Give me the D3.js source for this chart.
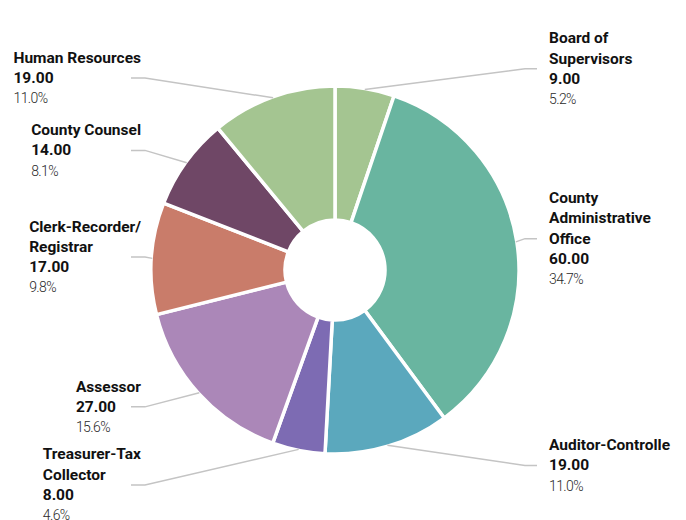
<!DOCTYPE html>
<html>
<head>
<meta charset="utf-8">
<script src="https://cdn.jsdelivr.net/npm/d3@7/dist/d3.min.js"></script>
<style>
  html, body { margin: 0; padding: 0; background: #fff; }
  svg { display: block; }
  .name, .value { font-family: Roboto, "Noto Sans", sans-serif; font-weight: 700; font-size: 15.5px; fill: #111; }
  .pct { font-family: Roboto, "Noto Sans", sans-serif; font-weight: 300; font-size: 14px; letter-spacing: -0.6px; fill: #2a2a2a; }
</style>
</head>
<body>
<svg id="chart" width="686" height="520"></svg>
<script>
// Department staffing (FTE), clockwise from 12 o'clock
const categories = [
  "Board of Supervisors",
  "County Administrative Office",
  "Auditor-Controlle",
  "Treasurer-Tax Collector",
  "Assessor",
  "Clerk-Recorder/Registrar",
  "County Counsel",
  "Human Resources"
];
// Label text as it wraps beside the ring
const labelLines = [
  ["Board of", "Supervisors"],
  ["County", "Administrative", "Office"],
  ["Auditor-Controlle"],
  ["Treasurer-Tax", "Collector"],
  ["Assessor"],
  ["Clerk-Recorder/", "Registrar"],
  ["County Counsel"],
  ["Human Resources"]
];
const values = [9, 60, 19, 8, 27, 17, 14, 19];
const colors = ["#a4c591", "#69b5a0", "#5ba8bd", "#7d6bb3", "#ab87b8", "#c97c6a", "#6f4766", "#a4c591"];

const W = 686, H = 520;
const cx = 335, cy = 270;
const outerR = 184, innerR = 50;
const labelR = 204;
const lineH = 20.3;

const svg = d3.select("#chart");
const total = d3.sum(values);
const data = categories.map((c, i) => ({ name: c, lines: labelLines[i], value: values[i], color: colors[i] }));

const pie = d3.pie().value(d => d.value).sort(null);
const arcs = pie(data);
const arc = d3.arc().innerRadius(innerR).outerRadius(outerR);

const g = svg.append("g").attr("transform", `translate(${cx},${cy})`);

const fmtVal = d3.format(".2f");
const fmtPct = d3.format(".1%");

// label anchors just outside the ring, at each slice's mid-angle
const labels = arcs.map(a => {
  const mid = (a.startAngle + a.endAngle) / 2;
  const right = Math.sin(mid) >= 0;
  const n = a.data.lines.length + 2;
  return {
    a, mid, right, n,
    y: cy - labelR * Math.cos(mid),
    px: cx + (outerR - 1) * Math.sin(mid),
    py: cy - (outerR - 1) * Math.cos(mid)
  };
});

// push overlapping label blocks down on each side
[true, false].forEach(side => {
  const list = labels.filter(l => l.right === side).sort((p, q) => p.y - q.y);
  for (let i = 1; i < list.length; i++) {
    const prev = list[i - 1], cur = list[i];
    const minY = prev.y + prev.n * lineH / 2 + 7 + cur.n * lineH / 2;
    if (cur.y < minY) cur.y = minY;
  }
});

// leader lines
const lineGen = d3.line();
const leaders = svg.append("g");
labels.forEach(l => {
  const endX = l.right ? 537 : 131;
  const elbowX = l.right ? 525 : 145;
  leaders.append("path")
    .attr("d", lineGen([[l.px, l.py], [elbowX, l.y], [endX, l.y]]))
    .attr("fill", "none")
    .attr("stroke", "#c4c4c4")
    .attr("stroke-width", 1.5);
});

// donut slices
g.selectAll("path.slice")
  .data(arcs)
  .join("path")
  .attr("class", "slice")
  .attr("d", arc)
  .attr("fill", d => d.data.color)
  .attr("stroke", "#fff")
  .attr("stroke-width", 3.5)
  .attr("stroke-linejoin", "round");

// label blocks: name, value, share
const labelG = svg.append("g");
labels.forEach(l => {
  const d = l.a.data;
  const t = labelG.append("text");
  const top = l.y - (l.n - 1) * lineH / 2 + 5;
  const rows = [
    ...d.lines.map(s => ({ s, cls: "name" })),
    { s: fmtVal(d.value), cls: "value" },
    { s: fmtPct(d.value / total), cls: "pct" }
  ];
  rows.forEach((r, i) => {
    t.append("tspan").attr("class", r.cls).attr("y", top + i * lineH).text(r.s);
  });
  if (l.right) {
    t.selectAll("tspan").attr("x", 549);
  } else {
    let maxW = 0;
    t.selectAll("tspan").each(function () { maxW = Math.max(maxW, this.getComputedTextLength()); });
    t.selectAll("tspan").attr("x", 141 - maxW);
  }
});
</script>
</body>
</html>
